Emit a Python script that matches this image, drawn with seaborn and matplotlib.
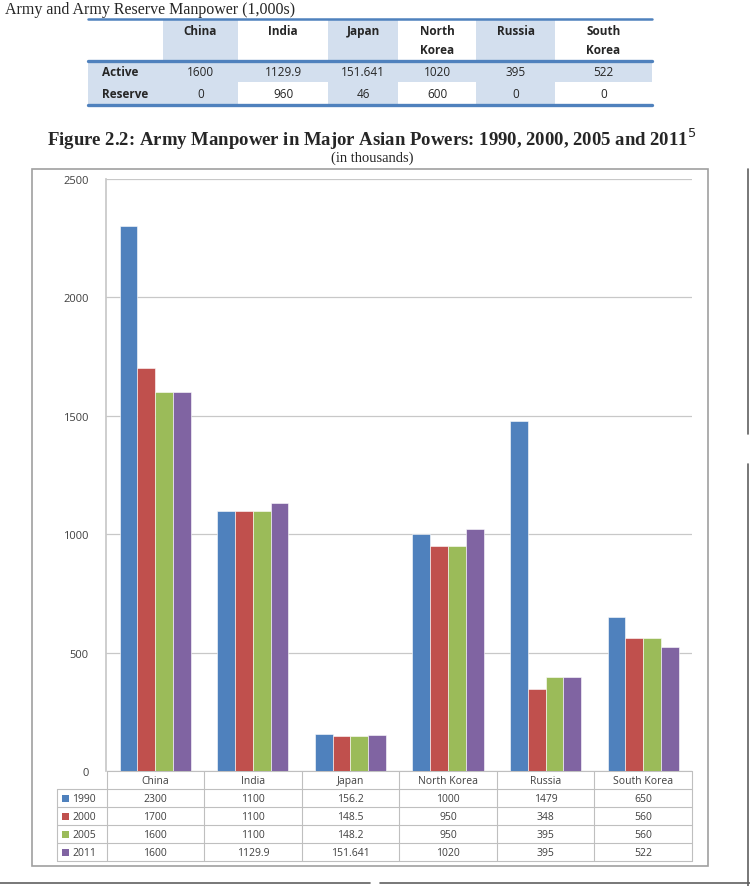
import matplotlib.pyplot as plt
import matplotlib.patches as mpatches
import numpy as np
import seaborn as sns
import pandas as pd

# Data
countries = ['China', 'India', 'Japan', 'North Korea', 'Russia', 'South Korea']
years = ['1990', '2000', '2005', '2011']
v1990 = [2300, 1100, 156.2, 1000, 1479, 650]
v2000 = [1700, 1100, 148.5, 950, 348, 560]
v2005 = [1600, 1100, 148.2, 950, 395, 560]
v2011 = [1600, 1129.9, 151.641, 1020, 395, 522]
year_labels = ['1990', '2000', '2005', '2011']
table_text = [['2300', '1100', '156.2', '1000', '1479', '650'],
              ['1700', '1100', '148.5', '950', '348', '560'],
              ['1600', '1100', '148.2', '950', '395', '560'],
              ['1600', '1129.9', '151.641', '1020', '395', '522']]

top_cols = ['China', 'India', 'Japan', 'North\nKorea', 'Russia', 'South\nKorea']
active = ['1600', '1129.9', '151.641', '1020', '395', '522']
reserve = ['0', '960', '46', '600', '0', '0']

colors = ['#4F81BD', '#C0504D', '#9BBB59', '#8064A2']
shade = '#D3DFEE'
blue_line = '#4F81BD'
grid_col = '#C8C8C8'

W, H = 750, 887
sns.set_theme(style='white')
plt.rcParams['font.family'] = ['Open Sans', 'DejaVu Sans']

fig = plt.figure(figsize=(7.5, 8.87), dpi=100)

# overlay axes in pixel coordinates for page decorations
ov = fig.add_axes([0, 0, 1, 1], zorder=0)
ov.set_xlim(0, W)
ov.set_ylim(H, 0)
ov.axis('off')

serif = ['Liberation Serif', 'DejaVu Serif']

# ---- top table ----
ov.text(5, 10, 'Army and Army Reserve Manpower (1,000s)', family=serif,
        fontsize=11.5, va='center', ha='left')
col_edges = [88, 163, 238, 328, 398, 476, 555, 652]
row_edges = [21, 61, 83, 105]
for ri in range(3):
    y0, y1 = row_edges[ri], row_edges[ri + 1]
    for ci in range(7):
        x0, x1 = col_edges[ci], col_edges[ci + 1]
        fill = ri == 1 or ci in (1, 3, 5) or (ci == 0 and ri == 2)
        if fill:
            ov.add_patch(mpatches.Rectangle((x0, y0), x1 - x0, y1 - y0,
                                            color=shade, lw=0))
for y, lw in [(20, 1.8), (61.5, 2.4), (106, 2.4)]:
    ov.plot([88, 652], [y, y], color=blue_line, lw=lw)
for ci, name in enumerate(top_cols):
    cx = (col_edges[ci + 1] + col_edges[ci + 2]) / 2
    ov.text(cx, 25, name, ha='center', va='top', fontsize=8.5, weight='bold',
            linespacing=1.55)
    ov.text(cx, 72, active[ci], ha='center', va='center', fontsize=8.5)
    ov.text(cx, 95, reserve[ci], ha='center', va='center', fontsize=8.5)
ov.text(102, 72, 'Active', ha='left', va='center', fontsize=8.5, weight='bold')
ov.text(102, 95, 'Reserve', ha='left', va='center', fontsize=8.5, weight='bold')

# ---- titles ----
ov.text(372, 139, r'Figure 2.2: Army Manpower in Major Asian Powers: 1990, 2000, 2005 and 2011$^{5}$',
        family=serif, fontsize=13.5, weight='bold', ha='center', va='center')
ov.text(372, 158, '(in thousands)', family=serif, fontsize=10.5, ha='center', va='center')

# ---- chart frame and page borders ----
ov.add_patch(mpatches.Rectangle((32, 170), 676, 697, fill=False, ec='#A0A0A0', lw=1.2))
ov.plot([748, 748], [170, 435], color='#606060', lw=1.2)
ov.plot([748, 748], [465, 887], color='#606060', lw=1.2)
ov.plot([0, 370], [884, 884], color='#606060', lw=1.2)
ov.plot([380, 750], [884, 884], color='#606060', lw=1.2)

# ---- bar chart ----
df = pd.DataFrame({'country': countries * 4,
                   'year': [y for y in years for _ in countries],
                   'value': v1990 + v2000 + v2005 + v2011})
ax_l, ax_r, ax_t, ax_b = 106.5, 692, 180, 772
ax = fig.add_axes([ax_l / W, (H - ax_b) / H, (ax_r - ax_l) / W, (ax_b - ax_t) / H], zorder=2)
ax.patch.set_alpha(0)
sns.barplot(data=df, x='country', y='value', hue='year', palette=colors,
            width=0.73, gap=0, ax=ax, legend=False, saturation=1,
            edgecolor='white', linewidth=0.4)
ax.set_ylim(0, 2500)
ax.set_xlim(-0.5, 5.5)
ax.set_yticks(np.arange(0, 2501, 500))
ax.set_yticklabels([str(t) for t in range(0, 2501, 500)], fontsize=8, color='#404040')
ax.tick_params(axis='y', length=5, color=grid_col, pad=8)
ax.set_xticks([])
ax.set_xlabel('')
ax.set_ylabel('')
ax.yaxis.grid(True, color=grid_col, lw=0.9)
ax.set_axisbelow(True)
for s in ['top', 'right', 'bottom']:
    ax.spines[s].set_visible(False)
ax.spines['left'].set_color(grid_col)

# ---- data table below chart ----
t_left, legend_left = 106.5, 57
cw = (ax_r - ax_l) / 6
rows_y = [772, 790.5, 808.5, 826.5, 844.5, 862.5]
tc = '#BFBFBF'
for y in rows_y[1:]:
    ov.plot([legend_left, ax_r], [y, y], color=tc, lw=0.8, zorder=3)
ov.plot([t_left, ax_r], [rows_y[0], rows_y[0]], color=tc, lw=0.8, zorder=3)
ov.plot([legend_left, legend_left], [rows_y[1], rows_y[-1]], color=tc, lw=0.8, zorder=3)
for i in range(7):
    x = t_left + i * cw
    ov.plot([x, x], [rows_y[0], rows_y[-1]], color=tc, lw=0.8, zorder=3)
for i, c in enumerate(countries):
    cx = t_left + (i + 0.5) * cw
    ov.text(cx, (rows_y[0] + rows_y[1]) / 2, c, ha='center', va='center',
            fontsize=7.5, color='#404040', zorder=4)
for r in range(4):
    cy = (rows_y[r + 1] + rows_y[r + 2]) / 2
    ov.add_patch(mpatches.Rectangle((62, cy - 3.5), 7, 7, color=colors[r], lw=0, zorder=4))
    ov.text(72, cy, year_labels[r], ha='left', va='center', fontsize=7.5, color='#404040', zorder=4)
    for i in range(6):
        cx = t_left + (i + 0.5) * cw
        ov.text(cx, cy, table_text[r][i], ha='center', va='center', fontsize=7.5,
                color='#404040', zorder=4)

fig.savefig('out.png', dpi=100)
